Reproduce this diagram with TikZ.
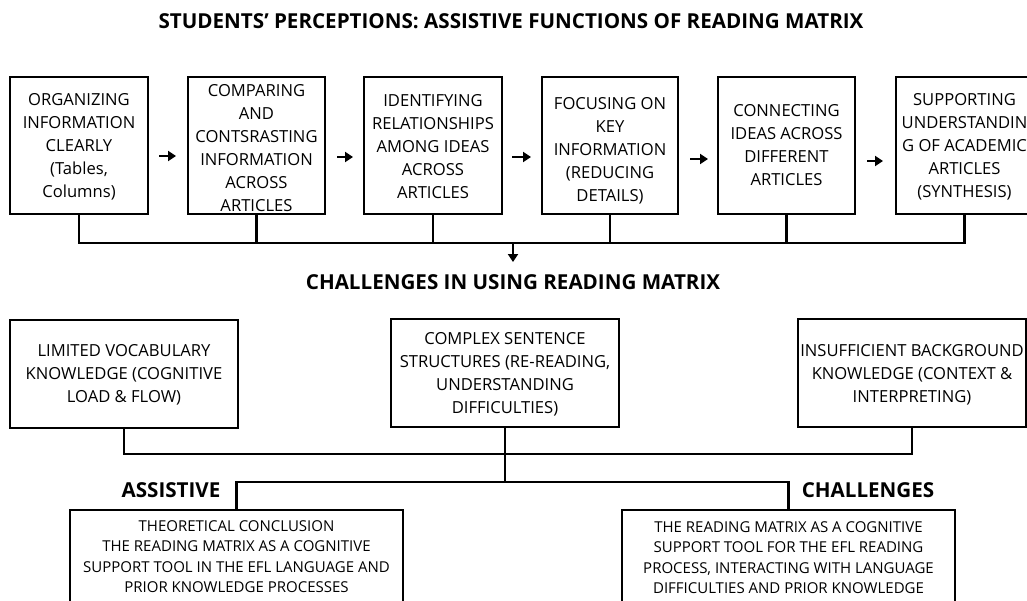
\documentclass[tikz,border=0pt]{standalone}
\usepackage{fontspec}
\setmainfont{Open Sans}
\usetikzlibrary{arrows.meta}
\begin{document}
\begin{tikzpicture}[x=1pt,y=-1pt,
  box/.style={draw, line width=2.2pt, inner sep=0pt, outer sep=0pt, anchor=north west},
  txt/.style={align=center, inner sep=0pt, font=\fontsize{16.6}{23}\selectfont},
  smalltxt/.style={align=center, inner sep=0pt, font=\fontsize{15}{20.5}\selectfont},
  head/.style={inner sep=0pt, font=\bfseries\fontsize{20.6}{24}\selectfont},
  line/.style={line width=2.2pt},
  arr/.style={line width=2.4pt, -{Triangle[length=8pt,width=10pt]}}]
\useasboundingbox (0,0) rectangle (1027,600);
\fill[white] (0,0) rectangle (1027,600);
\clip (0,0) rectangle (1027,600);

\node[head] (h1) at (511,21) {STUDENTS’ PERCEPTIONS: ASSISTIVE FUNCTIONS OF READING MATRIX};

% top row boxes
\node[box, minimum width=138pt, minimum height=137pt] (b1) at (10,77) {};
\node[box, minimum width=137pt, minimum height=137pt] (b2) at (188,77) {};
\node[box, minimum width=138pt, minimum height=137pt] (b3) at (364,77) {};
\node[box, minimum width=136pt, minimum height=137pt] (b4) at (542,77) {};
\node[box, minimum width=137pt, minimum height=137pt] (b5) at (718,77) {};
\node[box, minimum width=137pt, minimum height=137pt] (b6) at (896,77) {};

\node[txt] (t1) at (79,147) {ORGANIZING\\INFORMATION\\CLEARLY\\(Tables,\\Columns)};
\node[txt] (t2) at (256.5,148) {COMPARING\\AND\\CONTSRASTING\\INFORMATION\\ACROSS\\ARTICLES};
\node[txt] (t3) at (433,147) {IDENTIFYING\\RELATIONSHIPS\\AMONG IDEAS\\ACROSS\\ARTICLES};
\node[txt] (t4) at (610,151) {FOCUSING ON\\KEY\\INFORMATION\\(REDUCING\\DETAILS)};
\node[txt] (t5) at (786.5,145) {CONNECTING\\IDEAS ACROSS\\DIFFERENT\\ARTICLES};
\node[txt] (t6) at (964.5,147) {SUPPORTING\\UNDERSTANDIN\\G OF ACADEMIC\\ARTICLES\\(SYNTHESIS)};

% arrows between top boxes
\draw[arr] ([xshift=11pt,yshift=-10.5pt]b1.east) -- ([xshift=-12pt,yshift=-10.5pt]b2.west);
\draw[arr] ([xshift=12pt,yshift=-11.5pt]b2.east) -- ([xshift=-11pt,yshift=-11.5pt]b3.west);
\draw[arr] ([xshift=10pt,yshift=-11.5pt]b3.east) -- ([xshift=-11pt,yshift=-11.5pt]b4.west);
\draw[arr] ([xshift=12pt,yshift=-13.5pt]b4.east) -- ([xshift=-10pt,yshift=-13.5pt]b5.west);
\draw[arr] ([xshift=12pt,yshift=-15.5pt]b5.east) -- ([xshift=-13pt,yshift=-15.5pt]b6.west);

% bus under top row
\coordinate (bus) at (0,243);
\draw[line] (b1.south) |- (b6.south |- bus) -- (b6.south);
\draw[line] (b2.south) -- (b2.south |- bus);
\draw[line] (b3.south) -- (b3.south |- bus);
\draw[line] (b4.south) -- (b4.south |- bus);
\draw[line] (b5.south) -- (b5.south |- bus);
\coordinate (busmid) at (513,243);
\coordinate (busend) at (513,262);
\draw[line, -{Triangle[length=8pt,width=10pt]}] (busmid) -- (busend);

\node[head] (h2) at (513,282) {CHALLENGES IN USING READING MATRIX};

% second row
\node[box, minimum width=228pt, minimum height=108pt] (c1) at (10,320) {};
\node[box, minimum width=228pt, minimum height=108pt] (c2) at (391,319) {};
\node[box, minimum width=228pt, minimum height=108pt] (c3) at (798,319) {};

\node[txt] (u1) at (124,375) {LIMITED VOCABULARY\\KNOWLEDGE (COGNITIVE\\LOAD \& FLOW)};
\node[txt] (u2) at (505,374.5) {COMPLEX SENTENCE\\STRUCTURES (RE-READING,\\UNDERSTANDING\\DIFFICULTIES)};
\node[txt] (u3) at (912,375) {INSUFFICIENT BACKGROUND\\KNOWLEDGE (CONTEXT \&\\INTERPRETING)};

\coordinate (hb2) at (0,454);
\coordinate (hb3) at (0,482);
\draw[line] (c1.south) |- (c3.south |- hb2) -- (c3.south);
\draw[line] (c2.south) -- (c2.south |- hb3);

% bottom row
\node[box, minimum width=333pt, minimum height=120pt] (d1) at (70,510) {};
\node[box, minimum width=333pt, minimum height=120pt] (d2) at (622,510) {};
\draw[line] (d1.north) |- (d2.north |- hb3) -- (d2.north);

\node[head] (l1) at (171,490) {ASSISTIVE};
\node[head] (l2) at (868,490) {CHALLENGES};

\node[smalltxt] (v1) at (236.5,556.5) {THEORETICAL CONCLUSION\\THE READING MATRIX AS A COGNITIVE\\SUPPORT TOOL IN THE EFL LANGUAGE AND\\PRIOR KNOWLEDGE PROCESSES};
\node[smalltxt] (v2) at (788.5,557.5) {THE READING MATRIX AS A COGNITIVE\\SUPPORT TOOL FOR THE EFL READING\\PROCESS, INTERACTING WITH LANGUAGE\\DIFFICULTIES AND PRIOR KNOWLEDGE};
\end{tikzpicture}
\end{document}
